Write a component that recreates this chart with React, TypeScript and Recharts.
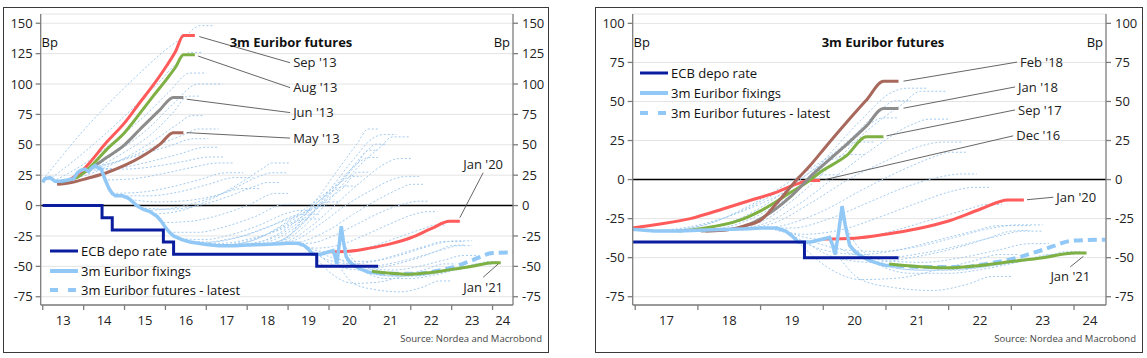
import React from 'react';
import {
  LineChart,
  Line,
  XAxis,
  YAxis,
  CartesianGrid,
  ReferenceLine,
  ReferenceDot,
} from 'recharts';

type Pt = [number, number];

// ECB deposit rate, bp (step dates)
const ecbDepo: Pt[] = [
  [2013.0, 0], [2014.45, -10], [2014.7, -20], [2015.95, -30], [2016.2, -40], [2019.7, -50], [2021.2, -50],
];

// 3m Euribor fixings, bp
const fixings: Pt[] = [
  [2013.0, 19], [2013.05, 22], [2013.18, 23], [2013.3, 20], [2013.42, 20], [2013.6, 21], [2013.75, 22],
  [2013.85, 27], [2013.93, 29], [2014.03, 30], [2014.12, 28], [2014.2, 31], [2014.28, 33], [2014.36, 31],
  [2014.43, 30], [2014.53, 21], [2014.62, 14], [2014.7, 10], [2014.78, 8], [2014.95, 8], [2015.1, 6],
  [2015.2, 3], [2015.3, 0], [2015.45, -3], [2015.62, -5], [2015.8, -9], [2015.9, -13], [2016.0, -18],
  [2016.1, -22], [2016.2, -25], [2016.4, -28], [2016.6, -30], [2016.8, -31], [2017.0, -32], [2017.3, -33],
  [2017.7, -33], [2018.0, -32.5], [2018.4, -32], [2018.8, -31.5], [2019.0, -31], [2019.25, -31],
  [2019.4, -33], [2019.5, -36], [2019.6, -40], [2019.7, -40], [2019.8, -40], [2019.9, -39], [2020.0, -38],
  [2020.1, -37], [2020.15, -42], [2020.19, -48], [2020.25, -32], [2020.3, -17], [2020.35, -29],
  [2020.42, -42], [2020.5, -46], [2020.6, -49], [2020.75, -52], [2020.9, -54], [2021.0, -55], [2021.15, -55],
];

// latest futures strip
const futuresLatest: Pt[] = [
  [2021.15, -55], [2021.6, -56], [2022.2, -56], [2022.6, -54], [2023.0, -51], [2023.5, -45], [2024.0, -39], [2024.5, -38.5],
];

// highlighted futures strips
const may13: Pt[] = [[2013.35, 17.5], [2013.7, 19], [2014.1, 22.5], [2014.56, 27], [2015.0, 33], [2015.38, 39.5], [2015.87, 50.5], [2016.19, 60], [2016.44, 60]];
const jun13: Pt[] = [[2013.45, 19], [2013.67, 21.5], [2014.0, 27], [2014.56, 39.5], [2015.0, 50], [2015.38, 62.8], [2015.87, 79], [2016.19, 89], [2016.44, 89]];
const aug13: Pt[] = [[2013.62, 21], [2013.83, 23], [2014.2, 33], [2014.56, 46], [2015.0, 60], [2015.38, 76], [2015.7, 90], [2016.03, 104], [2016.25, 114], [2016.44, 124], [2016.72, 124]];
const sep13: Pt[] = [[2013.7, 22], [2014.0, 30], [2014.56, 52], [2015.0, 68], [2015.38, 85], [2015.7, 99], [2016.03, 115], [2016.25, 127], [2016.44, 140], [2016.72, 140]];
const dec16: Pt[] = [[2016.95, -31], [2017.4, -28.5], [2017.88, -25], [2018.41, -18.7], [2018.83, -13.4], [2019.26, -8], [2019.58, -2.8], [2019.79, -0.6], [2019.95, -0.6]];
const sep17: Pt[] = [[2017.7, -33], [2018.04, -31.4], [2018.67, -26], [2019.0, -20], [2019.47, -8.5], [2019.74, -1.7], [2019.95, 4.7], [2020.37, 15.3], [2020.69, 27.4], [2020.96, 27.4]];
const jan18: Pt[] = [[2018.05, -33], [2018.5, -32], [2018.78, -29.3], [2019.05, -24], [2019.47, -11.3], [2019.84, 3.6], [2020.32, 20.6], [2020.69, 34.4], [2020.96, 45.5], [2021.2, 45.5]];
const feb18: Pt[] = [[2018.12, -33], [2018.5, -32], [2018.75, -29.5], [2019.0, -26], [2019.26, -15], [2019.58, 0], [2019.79, 9], [2020.06, 22], [2020.38, 37], [2020.69, 51], [2020.96, 63], [2021.2, 63]];
const jan20: Pt[] = [[2020.0, -38], [2020.5, -37.5], [2021.0, -35], [2021.5, -31.5], [2022.0, -26.5], [2022.5, -19], [2022.95, -13], [2023.2, -13]];
const jan21: Pt[] = [[2021.05, -54], [2021.3, -55], [2022.0, -56.5], [2022.5, -55], [2023.0, -52.5], [2023.5, -50], [2024.0, -47], [2024.2, -47]];

// older futures strips (thin dotted)
const curves2013: Pt[][] = [
  [[2013.0, 21], [2013.5, 42], [2014.0, 62], [2014.5, 80], [2015.0, 97], [2015.5, 113], [2016.0, 128], [2016.5, 140], [2016.85, 148], [2017.15, 148]],
  [[2013.15, 21], [2013.8, 38], [2014.5, 58], [2015.2, 80], [2015.8, 100], [2016.3, 118], [2016.6, 126], [2016.9, 126]],
  [[2013.25, 20], [2014.0, 34], [2014.75, 53], [2015.5, 74], [2016.1, 94], [2016.6, 109], [2017.0, 109]],
  [[2013.5, 20], [2014.2, 31], [2014.9, 46], [2015.6, 64], [2016.2, 84], [2016.8, 100], [2017.4, 100]],
  [[2013.55, 21], [2014.3, 31], [2015.0, 44], [2015.7, 60], [2016.2, 77], [2016.55, 90], [2016.85, 90]],
  [[2013.65, 21], [2014.3, 28], [2015.0, 39], [2015.7, 53], [2016.3, 67], [2016.65, 74], [2016.95, 74]],
  [[2013.85, 27], [2014.5, 33], [2015.2, 41], [2015.9, 51], [2016.5, 59], [2016.8, 63], [2017.3, 63]],
];
const curves2014: Pt[][] = [
  [[2014.0, 30], [2014.7, 35], [2015.4, 42], [2016.1, 49], [2016.7, 55], [2017.05, 55]],
  [[2014.15, 29], [2014.9, 31], [2015.6, 36], [2016.3, 42], [2017.0, 48], [2017.3, 48]],
  [[2014.35, 31], [2015.0, 30], [2015.7, 32], [2016.4, 36], [2017.1, 40], [2017.45, 40]],
  [[2014.5, 21], [2015.2, 22], [2015.9, 26], [2016.6, 31], [2017.3, 35], [2017.65, 35]],
  [[2014.7, 10], [2015.4, 11], [2016.1, 15], [2016.8, 21], [2017.5, 27], [2017.9, 27]],
  [[2014.95, 8], [2015.6, 8], [2016.3, 11], [2017.0, 17], [2017.7, 23], [2018.15, 23]],
];
const curves2015: Pt[][] = [
  [[2015.15, 5], [2015.8, 3], [2016.5, 4], [2017.2, 8], [2017.9, 14], [2018.3, 14]],
  [[2015.4, -2], [2016.1, -3], [2016.8, 0], [2017.5, 7], [2018.2, 16], [2018.5, 19], [2018.8, 19]],
  [[2015.55, -4], [2016.2, -2], [2016.9, 4], [2017.6, 13], [2018.3, 24], [2018.6, 27], [2018.95, 27]],
  [[2015.75, -7], [2016.4, -4], [2017.1, 5], [2017.8, 18], [2018.4, 31], [2018.6, 35], [2019.05, 35]],
  [[2015.95, -14], [2016.6, -13], [2017.3, -8], [2018.0, 0], [2018.7, 10], [2019.0, 10]],
];
const curves2016: Pt[][] = [
  [[2016.1, -22], [2016.8, -22], [2017.5, -17], [2018.2, -9], [2018.9, 1], [2019.2, 1]],
  [[2016.3, -27], [2016.95, -28], [2017.6, -24], [2018.3, -16], [2019.0, -6], [2019.3, -4], [2019.55, -4]],
  [[2016.5, -29], [2017.1, -30], [2017.8, -26], [2018.5, -18], [2019.2, -8], [2019.5, -7], [2019.75, -7]],
  [[2016.7, -31], [2017.4, -31], [2018.1, -27], [2018.8, -20], [2019.45, -11], [2019.75, -11]],
];
const curves2017: Pt[][] = [
  [[2017.2, -33], [2017.9, -30], [2018.6, -22], [2019.3, -10], [2019.95, 3], [2020.25, 3]],
  [[2017.4, -33], [2018.1, -29], [2018.8, -18], [2019.5, -3], [2020.1, 12], [2020.4, 16], [2020.65, 16]],
  [[2017.55, -33], [2018.2, -28], [2018.9, -15], [2019.6, 2], [2020.2, 17], [2020.55, 24], [2020.8, 24]],
  [[2017.8, -33], [2018.4, -29], [2019.0, -18], [2019.6, -1], [2020.2, 18], [2020.75, 36], [2020.95, 39.5], [2021.2, 39.5]],
  [[2017.9, -33], [2018.5, -30], [2019.1, -20], [2019.7, -3], [2020.3, 20], [2020.9, 44], [2021.15, 50.5], [2021.4, 50.5]],
];
const curves2018: Pt[][] = [
  [[2018.2, -33], [2018.8, -29], [2019.4, -13], [2020.0, 12], [2020.6, 38], [2021.1, 56], [2021.35, 58.5], [2021.65, 58.5]],
  [[2018.35, -32], [2018.95, -28], [2019.55, -12], [2020.15, 10], [2020.75, 33], [2021.25, 48], [2021.55, 56.5], [2021.95, 56.5]],
  [[2018.45, -32], [2019.0, -29], [2019.6, -16], [2020.2, 2], [2020.8, 20], [2021.4, 35], [2021.7, 38.7], [2022.0, 38.7]],
  [[2018.6, -32], [2019.2, -28], [2019.8, -15], [2020.4, 0], [2021.0, 12], [2021.6, 22], [2021.9, 24], [2022.2, 24]],
  [[2018.8, -32], [2019.4, -29], [2020.0, -20], [2020.6, -7], [2021.2, 5], [2021.8, 15], [2022.0, 17.5], [2022.3, 17.5]],
  [[2018.95, -31], [2019.5, -31], [2020.1, -25], [2020.7, -15], [2021.3, -5], [2021.9, 2], [2022.2, 3.6], [2022.45, 3.6]],
];
const curves2019: Pt[][] = [
  [[2019.1, -31], [2019.7, -35], [2020.3, -32], [2020.9, -24], [2021.5, -15], [2022.1, -7], [2022.4, -5], [2022.65, -5]],
  [[2019.3, -31], [2019.9, -38], [2020.5, -38], [2021.1, -33], [2021.7, -26], [2022.3, -19], [2022.6, -16], [2022.85, -16]],
  [[2019.45, -34], [2020.0, -45], [2020.6, -48], [2021.2, -45], [2021.8, -39], [2022.4, -33], [2022.8, -29.5], [2023.3, -29.5]],
  [[2019.6, -40], [2020.1, -57], [2020.6, -64], [2021.2, -63], [2021.8, -58], [2022.4, -52], [2022.8, -48], [2023.1, -48]],
  [[2019.72, -40], [2020.2, -50], [2020.8, -53], [2021.4, -50], [2022.0, -45], [2022.6, -38], [2023.0, -33], [2023.3, -32.5]],
  [[2019.85, -40], [2020.35, -45], [2020.9, -46], [2021.5, -43], [2022.1, -37], [2022.7, -31], [2023.1, -29], [2023.5, -29]],
];
const curves2020: Pt[][] = [
  [[2020.1, -40], [2020.5, -48], [2021.0, -50], [2021.6, -47], [2022.2, -42], [2022.8, -36], [2023.2, -33], [2023.5, -33]],
  [[2020.2, -47], [2020.6, -64], [2021.1, -69], [2021.75, -71], [2022.3, -67], [2022.7, -62], [2023.0, -62]],
  [[2020.3, -25], [2020.6, -45], [2021.0, -52], [2021.6, -53], [2022.2, -50], [2022.8, -45], [2023.3, -41], [2023.6, -41]],
  [[2020.45, -43], [2020.9, -55], [2021.4, -60], [2022.0, -60], [2022.6, -57], [2023.2, -52], [2023.6, -48], [2023.9, -48]],
  [[2020.6, -48], [2021.0, -55], [2021.5, -58], [2022.1, -58], [2022.7, -55], [2023.3, -51], [2023.7, -48], [2024.0, -48]],
  [[2020.8, -52], [2021.2, -57], [2021.7, -58], [2022.3, -57], [2022.9, -54], [2023.5, -50], [2023.9, -46], [2024.15, -46]],
];

const leftTicksY = [-75, -50, -25, 0, 25, 50, 75, 100, 125, 150];
const rightTicksY = [-75, -50, -25, 0, 25, 50, 75, 100];
const leftYears = [2013, 2014, 2015, 2016, 2017, 2018, 2019, 2020, 2021, 2022, 2023, 2024];
const rightYears = [2017, 2018, 2019, 2020, 2021, 2022, 2023, 2024];

const legendItems = [
  { label: 'ECB depo rate', color: '#0a1d9e', width: 3, dash: '' },
  { label: '3m Euribor fixings', color: '#92c8f5', width: 4, dash: '' },
  { label: '3m Euribor futures - latest', color: '#92c8f5', width: 4, dash: '8 10' },
];

const FONT = "'Open Sans', 'Noto Sans', sans-serif";
const RED = '#ff5b5b';
const GREEN = '#7fb043';
const GRAY = '#8d8d8d';
const BROWN = '#a8685b';
const NAVY = '#0a1d9e';
const SKY = '#92c8f5';
const DOT = '#a3cbef';

const toRows = (pts: Pt[]) => pts.map(([t, v]) => ({ t, v }));

type Callout = { text: string; from: Pt; to: Pt; at: Pt; pos: 'right' | 'top' | 'bottom'; offset: number };
type Highlight = { pts: Pt[]; color: string };

type PanelProps = {
  left: number;
  width: number;
  marginRight: number;
  xDomain: [number, number];
  yDomain: [number, number];
  years: number[];
  ticksY: number[];
  dotted: Pt[][];
  highlights: Highlight[];
  callouts: Callout[];
  titleX: number;
  bpRightX: number;
  legendX: number;
  legendY: number;
  legendGap: number;
};

const H = 346;
const Y_W = 35;
const X_H = 30;
const M_LEFT = 2.7;

const XTick = (props: any) => {
  const { x, y, payload, maxT, pxPerYear } = props;
  const t = payload.value as number;
  const span = Math.min(1, maxT - t);
  return (
    <text x={x + (span * pxPerYear) / 2} y={y} dy={13} textAnchor="middle" fontSize={13} fill="#222" fontFamily={FONT}>
      {String(t).slice(2)}
    </text>
  );
};

const Panel = (p: PanelProps) => {
  const plotW = p.width - M_LEFT - p.marginRight - 2 * Y_W;
  const pxPerYear = plotW / (p.xDomain[1] - p.xDomain[0]);
  const textBase: React.CSSProperties = { position: 'absolute', fontFamily: FONT, color: '#111', whiteSpace: 'nowrap' };

  return (
    <div style={{ position: 'absolute', left: p.left, top: 7, width: p.width, height: H }}>
      <div style={{ position: 'absolute', inset: 0, border: '1.5px solid #3a3a3a', boxSizing: 'border-box' }} />
      <LineChart width={p.width} height={H} margin={{ top: 7, right: p.marginRight, bottom: 18, left: M_LEFT }}>
        <CartesianGrid yAxisId="l" vertical={false} stroke="#e4e4e4" strokeWidth={1} />
        <XAxis
          type="number"
          dataKey="t"
          domain={p.xDomain}
          allowDataOverflow
          ticks={p.years}
          interval={0}
          height={X_H}
          stroke="#7d7d7d"
          strokeWidth={1.3}
          tickSize={5}
          tickMargin={2}
          tick={<XTick maxT={p.xDomain[1]} pxPerYear={pxPerYear} />}
        />
        <YAxis
          yAxisId="l"
          domain={p.yDomain}
          allowDataOverflow
          ticks={p.ticksY}
          interval={0}
          width={Y_W}
          stroke="#7d7d7d"
          strokeWidth={1.3}
          tickSize={5}
          tickMargin={3}
          tick={{ fontSize: 13, fill: '#222', fontFamily: FONT }}
        />
        <YAxis
          yAxisId="r"
          orientation="right"
          domain={p.yDomain}
          allowDataOverflow
          ticks={p.ticksY}
          interval={0}
          width={Y_W}
          stroke="#7d7d7d"
          strokeWidth={1.3}
          tickSize={5}
          tickMargin={4}
          tick={{ fontSize: 13, fill: '#222', fontFamily: FONT }}
        />
        <ReferenceLine yAxisId="l" y={0} stroke="#000" strokeWidth={1.5} />

        {p.dotted.map((c, i) => (
          <Line
            key={'d' + i}
            yAxisId="l"
            data={toRows(c)}
            dataKey="v"
            type="monotone"
            stroke={DOT}
            strokeWidth={1}
            strokeDasharray="2 2"
            dot={false}
            activeDot={false}
            isAnimationActive={false}
          />
        ))}

        {p.highlights.map((h, i) => (
          <Line
            key={'h' + i}
            yAxisId="l"
            data={toRows(h.pts)}
            dataKey="v"
            type="monotone"
            stroke={h.color}
            strokeWidth={3}
            dot={false}
            activeDot={false}
            isAnimationActive={false}
          />
        ))}

        <Line yAxisId="l" data={toRows(fixings)} dataKey="v" type="linear" stroke={SKY} strokeWidth={3.5} dot={false} activeDot={false} isAnimationActive={false} />
        <Line yAxisId="l" data={toRows(ecbDepo)} dataKey="v" type="stepAfter" stroke={NAVY} strokeWidth={3} dot={false} activeDot={false} isAnimationActive={false} />
        <Line yAxisId="l" data={toRows(futuresLatest)} dataKey="v" type="monotone" stroke={SKY} strokeWidth={4} strokeDasharray="9 5" dot={false} activeDot={false} isAnimationActive={false} />
        <Line yAxisId="l" data={toRows(jan21)} dataKey="v" type="monotone" stroke={GREEN} strokeWidth={3} dot={false} activeDot={false} isAnimationActive={false} />

        {p.callouts.map((c, i) => (
          <ReferenceLine
            key={'cl' + i}
            yAxisId="l"
            segment={[{ x: c.from[0], y: c.from[1] }, { x: c.to[0], y: c.to[1] }]}
            stroke="#555"
            strokeWidth={0.9}
            ifOverflow="visible"
          />
        ))}
        {p.callouts.map((c, i) => (
          <ReferenceDot
            key={'ct' + i}
            yAxisId="l"
            x={c.at[0]}
            y={c.at[1]}
            r={0}
            stroke="none"
            fill="none"
            ifOverflow="visible"
            label={{ value: c.text, position: c.pos, offset: c.offset, fontSize: 13, fill: '#222', fontFamily: FONT }}
          />
        ))}
      </LineChart>

      <div style={{ ...textBase, left: p.titleX, top: 27, fontSize: 13, fontWeight: 700, lineHeight: '16px', transform: 'translateX(-50%)' }}>
        3m Euribor futures
      </div>
      <div style={{ ...textBase, left: 38.5, top: 26.5, fontSize: 13, lineHeight: '16px' }}>Bp</div>
      <div style={{ ...textBase, left: p.bpRightX, top: 26.5, fontSize: 13, lineHeight: '16px', transform: 'translateX(-100%)' }}>Bp</div>
      <div style={{ ...textBase, right: 7, top: 326, fontSize: 9.5, lineHeight: '12px', color: '#444' }}>
        Source: Nordea and Macrobond
      </div>

      {legendItems.map((it, i) => (
        <div
          key={it.label}
          style={{ ...textBase, left: p.legendX, top: p.legendY + i * p.legendGap - 9, height: 18, display: 'flex', alignItems: 'center', fontSize: 13 }}
        >
          <svg width={28} height={8} style={{ marginRight: 3 }}>
            <line x1={0} x2={28} y1={4} y2={4} stroke={it.color} strokeWidth={it.width} strokeDasharray={it.dash || undefined} />
          </svg>
          <span style={{ color: '#111' }}>{it.label}</span>
        </div>
      ))}
    </div>
  );
};

const leftCallouts: Callout[] = [
  { text: "Sep '13", from: [2016.83, 139], to: [2019.05, 117.5], at: [2019.05, 117.5], pos: 'right', offset: 3 },
  { text: "Aug '13", from: [2016.8, 123], to: [2019.05, 97], at: [2019.05, 97], pos: 'right', offset: 3 },
  { text: "Jun '13", from: [2016.52, 87.5], to: [2019.05, 76.5], at: [2019.05, 76.5], pos: 'right', offset: 3 },
  { text: "May '13", from: [2016.52, 60], to: [2019.05, 55.5], at: [2019.05, 55.5], pos: 'right', offset: 3 },
  { text: "Jan '20", from: [2023.2, -10], to: [2023.77, 27], at: [2023.77, 27], pos: 'top', offset: 4 },
  { text: "Jan '21", from: [2023.77, -59], to: [2024.14, -48], at: [2023.77, -59], pos: 'bottom', offset: 5 },
];

const rightCallouts: Callout[] = [
  { text: "Feb '18", from: [2021.28, 63], to: [2023.09, 75.2], at: [2023.09, 75.2], pos: 'right', offset: 3 },
  { text: "Jan '18", from: [2021.28, 45.7], to: [2023.06, 59.3], at: [2023.06, 59.3], pos: 'right', offset: 3 },
  { text: "Sep '17", from: [2021.01, 28], to: [2023.06, 44.6], at: [2023.06, 44.6], pos: 'right', offset: 3 },
  { text: "Dec '16", from: [2020.03, 0], to: [2023.03, 28], at: [2023.03, 28], pos: 'right', offset: 3 },
  { text: "Jan '20", from: [2023.25, -12.9], to: [2023.67, -11.3], at: [2023.67, -11.3], pos: 'right', offset: 3 },
  { text: "Jan '21", from: [2023.94, -55.9], to: [2024.15, -49.1], at: [2023.94, -55.9], pos: 'bottom', offset: 5 },
];

export default function App() {
  const leftDotted = [
    ...curves2013, ...curves2014, ...curves2015, ...curves2016, dec16,
    ...curves2017, sep17, jan18, feb18, ...curves2018, ...curves2019, ...curves2020,
  ];
  const rightDotted = [...curves2017, ...curves2018, ...curves2019, ...curves2020];

  return (
    <div style={{ position: 'relative', width: 1147, height: 358, background: '#fff' }}>
      <style>{'body{margin:0;background:#fff}'}</style>
      <Panel
        left={3}
        width={546}
        marginRight={1}
        xDomain={[2012.95, 2024.5]}
        yDomain={[-81.8, 157.6]}
        years={leftYears}
        ticksY={leftTicksY}
        dotted={leftDotted}
        highlights={[
          { pts: may13, color: BROWN },
          { pts: jun13, color: GRAY },
          { pts: aug13, color: GREEN },
          { pts: sep13, color: RED },
          { pts: jan20, color: RED },
        ]}
        callouts={leftCallouts}
        titleX={288}
        bpRightX={507}
        legendX={47}
        legendY={244}
        legendGap={19.5}
      />
      <Panel
        left={595}
        width={548}
        marginRight={2}
        xDomain={[2016.96, 2024.51]}
        yDomain={[-80.3, 106]}
        years={rightYears}
        ticksY={rightTicksY}
        dotted={rightDotted}
        highlights={[
          { pts: dec16, color: RED },
          { pts: sep17, color: GREEN },
          { pts: jan18, color: GRAY },
          { pts: feb18, color: BROWN },
          { pts: jan20, color: RED },
        ]}
        callouts={rightCallouts}
        titleX={288}
        bpRightX={508}
        legendX={45}
        legendY={65.7}
        legendGap={20}
      />
    </div>
  );
}
